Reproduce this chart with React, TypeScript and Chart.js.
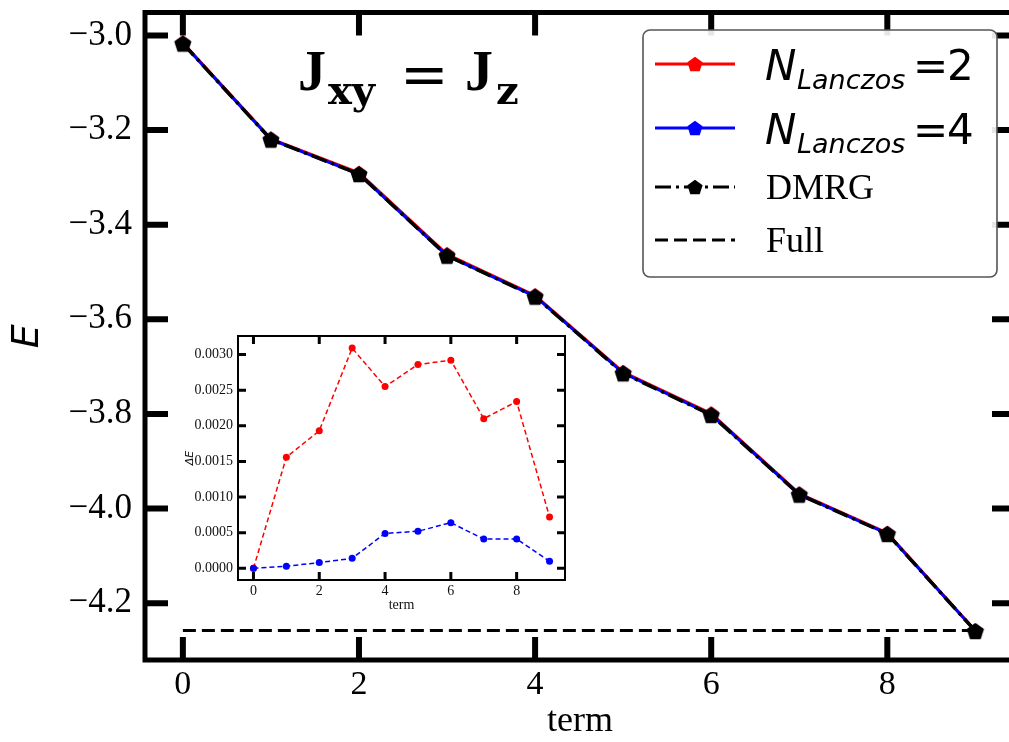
import React, { useEffect, useRef } from 'react';
import { Chart, registerables } from 'chart.js';

Chart.register(...registerables);

// ---------- data ----------
const terms = [0, 1, 2, 3, 4, 5, 6, 7, 8, 9];
const energyLanczos2 = [-3.0155, -3.2185, -3.2905, -3.4625, -3.5495, -3.7115, -3.7990, -3.9685, -4.0515, -4.2580];
const energyLanczos4 = [-3.0170, -3.2200, -3.2930, -3.4655, -3.5515, -3.7135, -3.8013, -3.9700, -4.0530, -4.2586];
const energyDMRG = [-3.0170, -3.2200, -3.2930, -3.4655, -3.5520, -3.7140, -3.8020, -3.9705, -4.0535, -4.2587];
const energyFull = -4.2575;
const fullRange = [0, 9];
const deltaLanczos2 = [0.0, 0.00156, 0.00193, 0.00309, 0.00255, 0.00286, 0.00292, 0.0021, 0.00234, 0.00072];
const deltaLanczos4 = [0.0, 0.00003, 0.00008, 0.00014, 0.00049, 0.00052, 0.00064, 0.00041, 0.00041, 0.0001];

const mainXTicks = [0, 2, 4, 6, 8];
const mainYTicks = [-3.0, -3.2, -3.4, -3.6, -3.8, -4.0, -4.2];
const insetXTicks = [0, 2, 4, 6, 8];
const insetYTicks = [0, 0.0005, 0.001, 0.0015, 0.002, 0.0025, 0.003];

const legendNames = ['N', 'N', 'DMRG', 'Full'];
const legendSubs = ['Lanczos', 'Lanczos', '', ''];
const legendValues = ['2', '4', '', ''];

const RED = '#ff0000';
const BLUE = '#0000ff';
const BLACK = '#000000';

function pentagon(r: number, color: string) {
  const c = document.createElement('canvas');
  const s = Math.ceil(r * 2 + 2);
  c.width = s;
  c.height = s;
  const g = c.getContext('2d')!;
  g.fillStyle = color;
  g.beginPath();
  for (let i = 0; i < 5; i++) {
    const a = -Math.PI / 2 + (i * 2 * Math.PI) / 5;
    const px = s / 2 + r * Math.cos(a);
    const py = s / 2 + r * Math.sin(a) + r * 0.1;
    if (i === 0) g.moveTo(px, py);
    else g.lineTo(px, py);
  }
  g.closePath();
  g.fill();
  return c;
}

const toXY = (ys: number[]) => ys.map((v, i) => ({ x: terms[i], y: v }));
const fmtMinus = (v: number, d: number) => (v < 0 ? '\u2212' : '') + Math.abs(v).toFixed(d);

function frame(chart: any, tickLen: number, tickW: number, spineW: number) {
  const { ctx, chartArea: a, scales } = chart;
  const x = scales.x;
  const y = scales.y;
  ctx.save();
  ctx.strokeStyle = '#000';
  ctx.lineWidth = tickW;
  ctx.lineCap = 'butt';
  ctx.beginPath();
  for (const t of x.ticks) {
    const px = x.getPixelForValue(t.value);
    ctx.moveTo(px, a.bottom);
    ctx.lineTo(px, a.bottom - tickLen);
    ctx.moveTo(px, a.top);
    ctx.lineTo(px, a.top + tickLen);
  }
  for (const t of y.ticks) {
    const py = y.getPixelForValue(t.value);
    ctx.moveTo(a.left, py);
    ctx.lineTo(a.left + tickLen, py);
    ctx.moveTo(a.right, py);
    ctx.lineTo(a.right - tickLen, py);
  }
  ctx.stroke();
  ctx.lineWidth = spineW;
  ctx.strokeRect(a.left, a.top, a.right - a.left, a.bottom - a.top);
  ctx.restore();
}

function drawLegendAndTitle(chart: any) {
  const { ctx } = chart;
  ctx.save();
  // legend box
  const bx = 643, by = 30, bw = 354, bh = 247, r = 7;
  ctx.beginPath();
  ctx.moveTo(bx + r, by);
  ctx.arcTo(bx + bw, by, bx + bw, by + bh, r);
  ctx.arcTo(bx + bw, by + bh, bx, by + bh, r);
  ctx.arcTo(bx, by + bh, bx, by, r);
  ctx.arcTo(bx, by, bx + bw, by, r);
  ctx.closePath();
  ctx.fillStyle = 'rgba(255,255,255,0.9)';
  ctx.fill();
  ctx.strokeStyle = '#555';
  ctx.lineWidth = 1.6;
  ctx.stroke();

  const rows = [64, 128, 187, 240];
  const colors = [RED, BLUE, BLACK, BLACK];
  const dashes = [[], [], [16, 5, 3, 5], [13, 6]];
  const markers = [pentagon(8, RED), pentagon(8, BLUE), pentagon(8, BLACK), null];
  for (let i = 0; i < 4; i++) {
    const yy = rows[i];
    ctx.strokeStyle = colors[i];
    ctx.lineWidth = 3;
    ctx.setLineDash(dashes[i]);
    ctx.beginPath();
    ctx.moveTo(655, yy);
    ctx.lineTo(735, yy);
    ctx.stroke();
    ctx.setLineDash([]);
    const m = markers[i];
    if (m) ctx.drawImage(m, 695 - m.width / 2, yy - m.height / 2);
    ctx.fillStyle = '#000';
    ctx.textBaseline = 'alphabetic';
    ctx.textAlign = 'left';
    if (legendSubs[i]) {
      ctx.font = 'italic 42px "DejaVu Sans"';
      ctx.fillText(legendNames[i], 765, yy + 16);
      ctx.font = 'italic 27px "DejaVu Sans"';
      ctx.fillText(legendSubs[i], 797, yy + 25);
      ctx.font = '42px "DejaVu Sans"';
      ctx.fillText('=', 913, yy + 16);
      ctx.fillText(legendValues[i], 947, yy + 16);
    } else {
      ctx.font = '36px "Liberation Serif"';
      ctx.fillText(legendNames[i], 766, yy + 12);
    }
  }

  // title  J_xy = J_z
  ctx.fillStyle = '#000';
  ctx.font = 'bold 56px "Liberation Serif"';
  ctx.fillText('J', 298, 90);
  ctx.font = 'bold 40px "DejaVu Serif"';
  ctx.fillText('xy', 328, 104);
  ctx.font = '58px "DejaVu Serif"';
  ctx.fillText('=', 400, 94);
  ctx.font = 'bold 56px "Liberation Serif"';
  ctx.fillText('J', 465, 90);
  ctx.font = 'bold 40px "DejaVu Serif"';
  ctx.fillText('z', 496, 104);
  ctx.restore();
}

function zeroPad(s: any) {
  s.paddingTop = 0;
  s.paddingBottom = 0;
  s.paddingLeft = 0;
  s.paddingRight = 0;
}

export default function App() {
  const mainRef = useRef<HTMLCanvasElement>(null);
  const insetRef = useRef<HTMLCanvasElement>(null);

  useEffect(() => {
    const mainChart = new Chart(mainRef.current!, {
      type: 'line',
      data: {
        datasets: [
          {
            label: 'DMRG',
            data: toXY(energyDMRG),
            borderColor: BLACK,
            borderWidth: 3.5,
            borderDash: [16, 5, 3, 5],
            pointStyle: pentagon(9, BLACK) as any,
            pointRadius: 9,
            order: 0,
          },
          {
            label: 'N_Lanczos = 4',
            data: toXY(energyLanczos4),
            borderColor: BLUE,
            borderWidth: 3,
            pointStyle: pentagon(8, BLUE) as any,
            pointRadius: 8,
            order: 1,
          },
          {
            label: 'N_Lanczos = 2',
            data: toXY(energyLanczos2),
            borderColor: RED,
            borderWidth: 3,
            pointStyle: pentagon(8, RED) as any,
            pointRadius: 8,
            order: 2,
          },
          {
            label: 'Full',
            data: fullRange.map((x) => ({ x, y: energyFull })),
            borderColor: BLACK,
            borderWidth: 3,
            borderDash: [13, 6],
            pointRadius: 0,
            order: 3,
          },
        ],
      },
      options: {
        animation: false,
        responsive: false,
        layout: { padding: { top: 10, right: 15, left: 0, bottom: 0 } },
        plugins: { legend: { display: false }, tooltip: { enabled: false } },
        scales: {
          x: {
            type: 'linear',
            min: -0.43,
            max: 9.45,
            grid: { display: false, drawTicks: false },
            border: { display: false },
            afterBuildTicks: (s: any) => {
              s.ticks = mainXTicks.map((v) => ({ value: v }));
            },
            afterFit: (s: any) => {
              s.height = 82;
              zeroPad(s);
            },
            ticks: {
              autoSkip: false,
              maxRotation: 0,
              padding: 5,
              color: '#000',
              font: { family: '"Liberation Serif"', size: 34 },
              callback: (v: any) => String(v),
            },
            title: {
              display: true,
              text: 'term',
              color: '#000',
              font: { family: '"Liberation Serif"', size: 36, lineHeight: 1 },
              padding: { top: 0, bottom: 2 },
            },
          },
          y: {
            type: 'linear',
            min: -4.32,
            max: -2.9516,
            grid: { display: false, drawTicks: false },
            border: { display: false },
            afterBuildTicks: (s: any) => {
              s.ticks = mainYTicks.map((v) => ({ value: v }));
            },
            afterFit: (s: any) => {
              s.width = 145;
              zeroPad(s);
            },
            ticks: {
              autoSkip: false,
              padding: 13,
              color: '#000',
              font: { family: '"Liberation Serif"', size: 35 },
              callback: (v: any) => fmtMinus(Number(v), 1),
            },
            title: {
              display: true,
              text: 'E',
              color: '#000',
              font: { family: '"DejaVu Sans"', size: 38, style: 'italic', lineHeight: 1 },
              padding: { top: 9, bottom: 0 },
            },
          },
        },
      },
      plugins: [
        {
          id: 'mainFrame',
          afterDraw: (c: any) => {
            frame(c, 23, 6, 5);
            drawLegendAndTitle(c);
          },
        },
      ],
    } as any);

    const insetChart = new Chart(insetRef.current!, {
      type: 'line',
      data: {
        datasets: [
          {
            label: 'N=4',
            data: toXY(deltaLanczos4),
            borderColor: BLUE,
            backgroundColor: BLUE,
            borderWidth: 1.5,
            borderDash: [5, 3],
            pointRadius: 3.5,
            pointBorderWidth: 0,
          },
          {
            label: 'N=2',
            data: toXY(deltaLanczos2),
            borderColor: RED,
            backgroundColor: RED,
            borderWidth: 1.5,
            borderDash: [5, 3],
            pointRadius: 3.5,
            pointBorderWidth: 0,
          },
        ],
      },
      options: {
        animation: false,
        responsive: false,
        layout: { padding: { top: 11, right: 15, left: 0, bottom: 0 } },
        plugins: { legend: { display: false }, tooltip: { enabled: false } },
        scales: {
          x: {
            type: 'linear',
            min: -0.47,
            max: 9.47,
            grid: { display: false, drawTicks: false },
            border: { display: false },
            afterBuildTicks: (s: any) => {
              s.ticks = insetXTicks.map((v) => ({ value: v }));
            },
            afterFit: (s: any) => {
              s.height = 45;
              zeroPad(s);
            },
            ticks: {
              autoSkip: false,
              maxRotation: 0,
              padding: 3,
              color: '#111',
              font: { family: '"Liberation Serif"', size: 14 },
              callback: (v: any) => String(v),
            },
            title: {
              display: true,
              text: 'term',
              color: '#111',
              font: { family: '"Liberation Serif"', size: 14, lineHeight: 1 },
              padding: { top: 0, bottom: 13 },
            },
          },
          y: {
            type: 'linear',
            min: -0.000164,
            max: 0.00326,
            grid: { display: false, drawTicks: false },
            border: { display: false },
            afterBuildTicks: (s: any) => {
              s.ticks = insetYTicks.map((v) => ({ value: v }));
            },
            afterFit: (s: any) => {
              s.width = 53;
              zeroPad(s);
            },
            ticks: {
              autoSkip: false,
              padding: 5,
              color: '#111',
              font: { family: '"Liberation Serif"', size: 14 },
              callback: (v: any) => Number(v).toFixed(4),
            },
            title: {
              display: true,
              text: '\u0394E',
              color: '#111',
              font: { family: '"DejaVu Sans"', size: 11, style: 'italic', lineHeight: 1 },
              padding: { top: 0, bottom: 0 },
            },
          },
        },
      },
      plugins: [
        {
          id: 'insetFrame',
          afterDraw: (c: any) => frame(c, 8, 3, 2),
        },
      ],
    } as any);

    return () => {
      mainChart.destroy();
      insetChart.destroy();
    };
  }, []);

  return (
    <div
      style={{
        position: 'fixed',
        left: 0,
        top: 0,
        width: 1009,
        height: 742,
        overflow: 'hidden',
        background: '#fff',
      }}
    >
      <canvas
        ref={mainRef}
        width={1030}
        height={742}
        style={{ position: 'absolute', left: 0, top: 0, width: 1030, height: 742 }}
      />
      <canvas
        ref={insetRef}
        width={395}
        height={300}
        style={{ position: 'absolute', left: 185, top: 325, width: 395, height: 300 }}
      />
    </div>
  );
}
